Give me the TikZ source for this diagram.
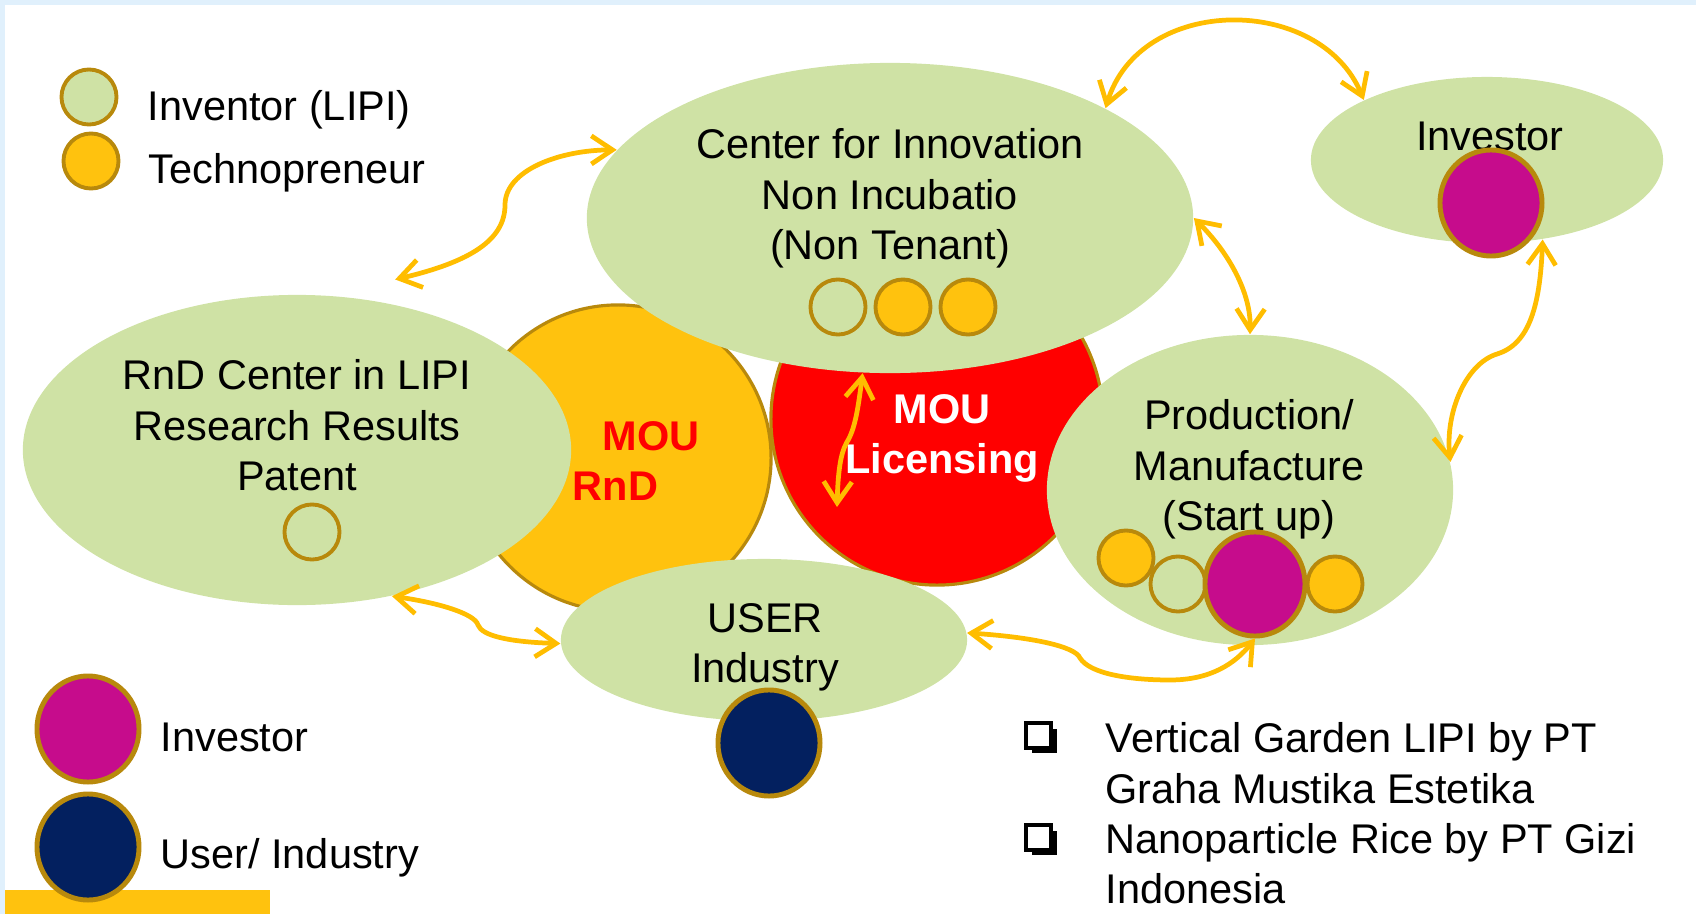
\documentclass[tikz,border=0pt]{standalone}
\usepackage{fontspec}
\setmainfont{Liberation Sans}
\usepackage{tikz}
\usetikzlibrary{arrows.meta,shapes.geometric,calc}
\definecolor{Leaf}{HTML}{CFE2A5}
\definecolor{Amber}{HTML}{FFC20E}
\definecolor{Rim}{HTML}{B8890C}
\definecolor{Plum}{HTML}{C60C8C}
\definecolor{Navy}{HTML}{03205F}
\definecolor{Alarm}{HTML}{FF0000}
\definecolor{Wire}{HTML}{FFBD00}
\definecolor{Haze}{HTML}{E0F0FC}
\newcommand{\bodyfont}{\fontsize{11.8}{14.3}\selectfont}

\begin{document}
\begin{tikzpicture}[x=0.01cm,y=0.01cm,font=\bodyfont,
  blob/.style={ellipse,fill=Leaf,inner sep=0pt},
  disc/.style={circle,draw=Rim,line width=1.1pt,inner sep=0pt,minimum size=0.55cm},
  coin/.style={ellipse,draw=Rim,line width=1.4pt,inner sep=0pt,minimum width=1.02cm,minimum height=1.06cm},
  blurb/.style={align=center,inner sep=0pt,anchor=north},
  legendtxt/.style={anchor=base west,inner sep=0pt},
  link/.style={Wire,line width=1.35pt,>={Straight Barb[length=6pt,width=8pt]},<->}]
  \useasboundingbox (0,0) rectangle (1696,914);
  \fill[Haze] (0,909) rectangle (1696,914);
  \fill[Haze] (0,0) rectangle (5,914);
  \fill[Amber] (5,0) rectangle (270,24);

  \node[circle,fill=Amber,draw=Rim,line width=0.9pt,inner sep=0pt,minimum size=3.06cm] (rndmou) at (618,456) {};
  \node[circle,fill=Alarm,draw=Rim,line width=0.9pt,inner sep=0pt,minimum size=3.32cm] (licmou) at (937,495) {};

  \node[blob,minimum width=5.48cm,minimum height=3.1cm] (rnd) at (297,464) {};
  \node[blob,minimum width=6.06cm,minimum height=3.1cm] (cfi) at (890,696) {};
  \node[blob,minimum width=3.52cm,minimum height=1.66cm] (inv) at (1487,754) {};
  \node[blob,minimum width=4.06cm,minimum height=3.1cm] (prod) at (1250,424) {};
  \node[blob,minimum width=4.06cm,minimum height=1.62cm] (user) at (764,274) {};

  \node[blurb] (cfitxt) at (890,786) {Center for Innovation\\Non Incubatio\\(Non Tenant)};
  \node[blurb] (rndtxt) at (297,555) {RnD Center in LIPI\\Research Results\\Patent};
  \node[blurb] (invtxt) at (1490,793) {Investor};
  \node[blurb] (prodtxt) at (1249,515) {Production/\\Manufacture\\(Start up)};
  \node[blurb] (usertxt) at (765,311) {USER\\Industry};
  \node[blurb,anchor=north west,align=left,text=Alarm,font=\bodyfont\bfseries] (rndlbl) at (572,493) {\hspace*{0.3cm}MOU\\RnD};
  \node[blurb,text=white,font=\bodyfont\bfseries] (liclbl) at (942,520) {MOU\\Licensing};

  \foreach \x/\c [count=\i] in {838/Leaf,903/Amber,968/Amber}
    \node[disc,fill=\c] (cfidot\i) at (\x,607) {};
  \node[disc,fill=Leaf] (rnddot) at (312,382) {};
  \node[disc,fill=Amber] (proddot1) at (1126,356) {};
  \node[disc,fill=Leaf] (proddot2) at (1178,330) {};
  \node[disc,fill=Amber] (proddot3) at (1335,330) {};
  \node[coin,fill=Plum,minimum width=1cm,minimum height=1.04cm] (prodinv) at (1255,330) {};
  \node[coin,fill=Plum] (invdot) at (1491,711) {};
  \node[coin,fill=Navy] (userdot) at (769,171) {};

  \node[disc,fill=Leaf] (lgin) at (89,817) {};
  \node[disc,fill=Amber] (lgtp) at (91,753) {};
  \node[coin,fill=Plum] (lginv) at (88,185) {};
  \node[coin,fill=Navy] (lgusr) at (88,67) {};
  \node[legendtxt] (lginlbl) at (147,794) {Inventor (LIPI)};
  \node[legendtxt] (lgtplbl) at (148,731) {Technopreneur};
  \node[legendtxt] (lginvlbl) at (160,163) {Investor};
  \node[legendtxt] (lgusrlbl) at (160,46) {User/ Industry};

  \foreach \y in {178,76} {
    \fill[black] (1032,\y-17) rectangle (1057,\y+7);
    \filldraw[fill=white,draw=black,line width=1pt] (1026,\y-12) rectangle (1051,\y+13);
  }
  \node[anchor=north west,align=left,inner sep=0pt] (notes) at (1105,192)
    {Vertical Garden LIPI by PT\\Graha Mustika Estetika\\Nanoparticle Rice by PT Gizi\\Indonesia};

  \coordinate (licin) at (837,407);
  \draw[link] ([shift={(0,25)}]rnd.56) .. controls (470,652) and (505,674) .. (505,709)
    .. controls (505,744) and (560,764) .. (cfi.166);
  \draw[link] (cfi.27) .. controls (1140,920) and (1320,920) .. (inv.154);
  \draw[link] (cfi.0) .. controls (1230,660) and (1251,620) .. (prod.north);
  \draw[link] (inv.305) .. controls (1540,610) and (1530,570) .. (1497,560)
    .. controls (1465,550) and (1445,500) .. (prod.8);
  \draw[link] (cfi.260) .. controls (858,505) and (855,485) .. (847,472)
    .. controls (840,460) and (838,440) .. (licin);
  \draw[link] (rnd.303) .. controls (440,311) and (475,300) .. (478,289)
    .. controls (482,278) and (510,272) .. (user.181);
  \draw[link] (user.2) .. controls (1030,277) and (1075,268) .. (1080,256)
    .. controls (1090,240) and (1130,234) .. (1170,234)
    .. controls (1210,234) and (1235,250) .. (prodinv.south);
\end{tikzpicture}
\end{document}
